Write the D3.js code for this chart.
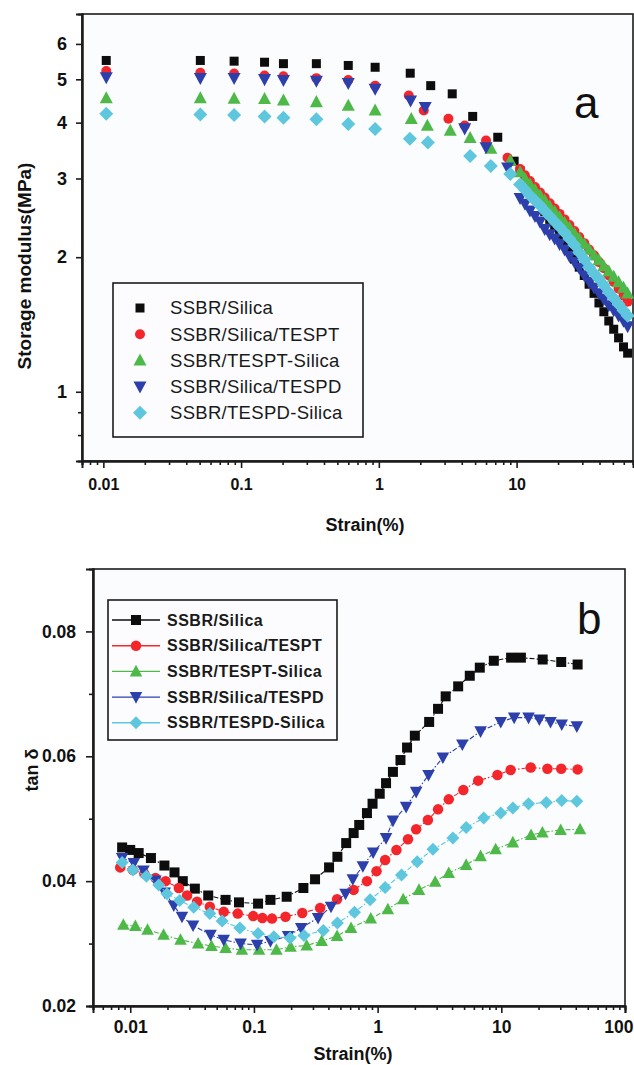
<!DOCTYPE html>
<html>
<head>
<meta charset="utf-8">
<script src="https://cdn.jsdelivr.net/npm/d3@7"></script>
<style>
  html, body { margin: 0; padding: 0; background: #ffffff; }
  svg { display: block; }
</style>
</head>
<body>
<svg id="fig" width="634" height="1065"></svg>
<script>
// ---------- series ----------
const seriesNames = ["SSBR/Silica", "SSBR/Silica/TESPT", "SSBR/TESPT-Silica", "SSBR/Silica/TESPD", "SSBR/TESPD-Silica"];

// ---------- (a) storage modulus vs strain ----------
// high-strain part of the sweep shared by all compounds (%)
const sweepStrain = [10.6, 11.5, 12.5, 13.6, 14.8, 16.0, 17.4, 18.9, 20.5, 22.3, 24.2, 26.3, 28.5, 31.0, 33.6, 36.5, 39.6, 43.0, 46.7, 50.7, 55.0, 59.7, 64.0];

const aStrainSilica = [0.0105, 0.0506, 0.089, 0.148, 0.203, 0.352, 0.60, 0.94, 1.69, 2.38, 3.41, 4.8, 7.3, 9.6, ...sweepStrain];
const aModSilica = [5.51, 5.51, 5.49, 5.46, 5.42, 5.42, 5.37, 5.32, 5.16, 4.84, 4.64, 4.13, 3.71, 3.28,
  3.12, 2.98, 2.86, 2.75, 2.64, 2.53, 2.43, 2.34, 2.25, 2.16, 2.07, 1.98, 1.90, 1.82, 1.74, 1.66, 1.58, 1.51, 1.44, 1.38, 1.32, 1.26, 1.22];

const aStrainSilicaTESPT = [0.0105, 0.0506, 0.089, 0.148, 0.203, 0.352, 0.60, 0.94, 1.65, 2.12, 3.2, 4.2, 6.0, 8.6, ...sweepStrain];
const aModSilicaTESPT = [5.22, 5.17, 5.15, 5.10, 5.08, 5.03, 4.98, 4.84, 4.60, 4.26, 4.08, 3.94, 3.65, 3.34,
  3.15, 3.05, 2.96, 2.87, 2.79, 2.72, 2.64, 2.57, 2.50, 2.43, 2.36, 2.29, 2.22, 2.15, 2.08, 2.02, 1.95, 1.89, 1.82, 1.76, 1.70, 1.64, 1.59];

const aStrainTESPTSilica = [0.0105, 0.0506, 0.089, 0.148, 0.203, 0.352, 0.60, 0.94, 1.72, 2.25, 3.3, 4.6, 6.5, 9.0, ...sweepStrain];
const aModTESPTSilica = [4.54, 4.54, 4.53, 4.52, 4.49, 4.45, 4.37, 4.26, 4.08, 3.94, 3.84, 3.70, 3.50, 3.29,
  3.10, 3.00, 2.91, 2.83, 2.75, 2.68, 2.60, 2.53, 2.46, 2.39, 2.33, 2.26, 2.20, 2.14, 2.08, 2.02, 1.97, 1.91, 1.86, 1.81, 1.76, 1.71, 1.66];

const aStrainSilicaTESPD = [0.0105, 0.0506, 0.089, 0.148, 0.203, 0.352, 0.60, 0.94, 1.70, 2.17, 4.2, 6.0, 8.6, ...sweepStrain];
const aModSilicaTESPD = [5.05, 5.03, 5.03, 5.00, 4.98, 4.96, 4.90, 4.76, 4.48, 4.33, 3.88, 3.52, 3.17,
  2.71, 2.63, 2.54, 2.47, 2.40, 2.31, 2.25, 2.20, 2.14, 2.08, 2.01, 1.95, 1.89, 1.82, 1.76, 1.71, 1.66, 1.61, 1.56, 1.52, 1.48, 1.44, 1.40];

const aStrainTESPDSilica = [0.0105, 0.0506, 0.089, 0.148, 0.203, 0.352, 0.60, 0.94, 1.68, 2.27, 4.6, 6.5, 9.0, ...sweepStrain];
const aModTESPDSilica = [4.19, 4.17, 4.16, 4.13, 4.10, 4.07, 3.97, 3.87, 3.68, 3.61, 3.37, 3.20, 3.07,
  2.91, 2.83, 2.75, 2.68, 2.61, 2.54, 2.47, 2.40, 2.34, 2.27, 2.20, 2.13, 2.05, 1.98, 1.90, 1.84, 1.79, 1.73, 1.67, 1.62, 1.57, 1.52, 1.48];

// ---------- (b) tan delta vs strain ----------
const bStrainSilica = [0.0086, 0.0100, 0.0117, 0.0147, 0.0189, 0.0228, 0.0266, 0.0333, 0.0427, 0.059, 0.0757, 0.108, 0.136, 0.184, 0.251, 0.312, 0.405, 0.473, 0.557, 0.64, 0.71, 0.82, 0.91, 1.04, 1.17, 1.33, 1.53, 1.73, 2.0, 2.61, 3.08, 3.55, 4.48, 5.56, 6.7, 8.7, 12.0, 14.4, 21.6, 30.5, 41.4];
const bTanSilica = [0.0454, 0.0450, 0.0445, 0.0437, 0.0425, 0.0414, 0.0400, 0.0388, 0.0377, 0.0370, 0.0366, 0.0364, 0.0370, 0.0375, 0.0389, 0.0403, 0.0422, 0.0439, 0.0461, 0.0477, 0.0490, 0.0509, 0.0524, 0.0540, 0.0557, 0.0575, 0.0594, 0.0614, 0.0633, 0.0655, 0.0676, 0.0696, 0.0712, 0.0729, 0.0742, 0.0753, 0.0758, 0.0758, 0.0755, 0.0751, 0.0747];

const bStrainSilicaTESPT = [0.0083, 0.0105, 0.0130, 0.0160, 0.0193, 0.0247, 0.0288, 0.0347, 0.044, 0.057, 0.074, 0.0987, 0.117, 0.14, 0.18, 0.246, 0.343, 0.47, 0.64, 0.82, 0.98, 1.15, 1.42, 1.76, 2.05, 2.55, 3.08, 3.76, 4.93, 6.5, 9.3, 11.9, 17.3, 23.6, 30.5, 41.4];
const bTanSilicaTESPT = [0.0422, 0.0418, 0.0412, 0.0405, 0.0400, 0.0389, 0.0377, 0.0367, 0.0359, 0.0351, 0.0348, 0.0344, 0.0341, 0.0340, 0.0343, 0.0349, 0.0357, 0.0371, 0.0386, 0.0400, 0.0416, 0.0434, 0.0450, 0.0467, 0.0483, 0.0498, 0.0515, 0.0531, 0.0546, 0.0561, 0.0570, 0.0578, 0.0582, 0.0580, 0.0580, 0.0579];

const bStrainTESPTSilica = [0.0088, 0.0110, 0.0138, 0.0186, 0.0255, 0.0354, 0.0454, 0.059, 0.080, 0.110, 0.152, 0.198, 0.267, 0.353, 0.47, 0.61, 0.88, 1.21, 1.61, 2.16, 2.92, 3.76, 5.2, 6.8, 9.0, 12.4, 17.4, 21.5, 30.2, 43.3];
const bTanTESPTSilica = [0.0330, 0.0328, 0.0322, 0.0314, 0.0306, 0.0300, 0.0296, 0.0293, 0.0290, 0.0290, 0.0290, 0.0295, 0.0297, 0.0304, 0.0312, 0.0325, 0.0340, 0.0355, 0.0371, 0.0386, 0.0399, 0.0413, 0.0426, 0.0440, 0.0451, 0.0462, 0.0474, 0.0478, 0.0482, 0.0483];

const bStrainSilicaTESPD = [0.0086, 0.0107, 0.0128, 0.0160, 0.0190, 0.0225, 0.0262, 0.0322, 0.0446, 0.057, 0.078, 0.106, 0.136, 0.189, 0.241, 0.33, 0.42, 0.55, 0.63, 0.76, 0.92, 1.17, 1.33, 1.70, 2.05, 2.58, 3.37, 4.84, 6.8, 9.9, 12.7, 16.6, 20.3, 25.0, 30.8, 40.8];
const bTanSilicaTESPD = [0.0437, 0.0429, 0.0417, 0.0401, 0.0382, 0.0361, 0.0343, 0.0329, 0.0314, 0.0306, 0.0300, 0.0298, 0.0304, 0.0312, 0.0325, 0.0341, 0.0359, 0.0380, 0.0403, 0.0424, 0.0446, 0.0469, 0.0497, 0.0519, 0.0543, 0.0570, 0.0598, 0.0619, 0.0640, 0.0655, 0.0662, 0.0662, 0.0659, 0.0655, 0.0651, 0.0648];

const bStrainTESPDSilica = [0.0086, 0.0105, 0.0135, 0.0170, 0.0198, 0.0251, 0.0326, 0.044, 0.0553, 0.077, 0.108, 0.145, 0.196, 0.254, 0.364, 0.473, 0.65, 0.87, 1.15, 1.56, 2.09, 2.8, 4.06, 5.2, 7.2, 9.9, 12.4, 16.6, 23.1, 30.8, 40.8];
const bTanTESPDSilica = [0.0430, 0.0418, 0.0408, 0.0394, 0.0380, 0.0369, 0.0358, 0.0348, 0.0336, 0.0325, 0.0316, 0.0311, 0.0309, 0.0313, 0.0321, 0.0333, 0.0350, 0.0370, 0.0390, 0.0410, 0.0431, 0.0451, 0.0469, 0.0486, 0.0501, 0.0509, 0.0517, 0.0524, 0.0526, 0.0529, 0.0528];

// ---------- tick labels ----------
const aXTicks = [0.01, 0.1, 1, 10];
const aXTickLabels = ["0.01", "0.1", "1", "10"];
const aYTicks = [1, 2, 3, 4, 5, 6];
const aYTickLabels = ["1", "2", "3", "4", "5", "6"];
const bXTicks = [0.01, 0.1, 1, 10, 100];
const bXTickLabels = ["0.01", "0.1", "1", "10", "100"];
const bYTicks = [0.02, 0.04, 0.06, 0.08];
const bYTickLabels = ["0.02", "0.04", "0.06", "0.08"];

// ---------- styling ----------
const colors = ["#0d0d0d", "#f3262b", "#4eb948", "#2c3fab", "#5ec7de"];
const shapes = ["square", "circle", "triangleUp", "triangleDown", "diamond"];
const FONT = "'Liberation Sans', Arial, Helvetica, sans-serif";

const aSeries = [
  {strain: aStrainSilica, value: aModSilica},
  {strain: aStrainSilicaTESPT, value: aModSilicaTESPT},
  {strain: aStrainTESPTSilica, value: aModTESPTSilica},
  {strain: aStrainSilicaTESPD, value: aModSilicaTESPD},
  {strain: aStrainTESPDSilica, value: aModTESPDSilica}
];
const bSeries = [
  {strain: bStrainSilica, value: bTanSilica},
  {strain: bStrainSilicaTESPT, value: bTanSilicaTESPT},
  {strain: bStrainTESPTSilica, value: bTanTESPTSilica},
  {strain: bStrainSilicaTESPD, value: bTanSilicaTESPD},
  {strain: bStrainTESPDSilica, value: bTanTESPDSilica}
];

// marker outline for a given shape and nominal width
function markerPath(shape, s) {
  const p = d3.path();
  const h = s / 2;
  if (shape === "square") {
    p.rect(-h, -h, s, s);
  } else if (shape === "circle") {
    p.arc(0, 0, h, 0, 2 * Math.PI);
  } else if (shape === "triangleUp") {
    p.moveTo(0, -h * 1.05); p.lineTo(h, h * 0.8); p.lineTo(-h, h * 0.8); p.closePath();
  } else if (shape === "triangleDown") {
    p.moveTo(0, h * 1.05); p.lineTo(h, -h * 0.8); p.lineTo(-h, -h * 0.8); p.closePath();
  } else {
    p.moveTo(0, -h); p.lineTo(h, 0); p.lineTo(0, h); p.lineTo(-h, 0); p.closePath();
  }
  return p.toString();
}
const aSizes = [9, 10, 13, 13, 14];
const bSizes = [10, 10.5, 12.5, 12.5, 13];

const svg = d3.select("#fig");

function decadeMinors(lo, hi) {
  const out = [];
  for (let e = Math.floor(Math.log10(lo)); e <= Math.ceil(Math.log10(hi)); e++) {
    for (let m = 2; m <= 9; m++) {
      const v = m * Math.pow(10, e);
      if (v >= lo * 0.999 && v <= hi * 1.001) out.push(v);
    }
  }
  return out;
}

function styleAxis(g, fontSize) {
  g.select(".domain").attr("stroke", "#1b1b1b").attr("stroke-width", 2);
  g.selectAll(".tick line").attr("stroke", "#1b1b1b").attr("stroke-width", 1.6);
  g.selectAll(".tick text")
    .attr("font-family", FONT).attr("font-weight", "bold")
    .attr("font-size", fontSize).attr("fill", "#111");
}

// ================= panel (a) =================
const aLeft = 82, aRight = 633, aTop = 14, aBottom = 461;
const ax = d3.scaleLog().domain([0.007, 70]).range([aLeft, aRight]);
const ay = d3.scaleLog().domain([0.7, 7]).range([aBottom, aTop]);

const pa = svg.append("g");
pa.append("rect").attr("x", aLeft).attr("y", aTop)
  .attr("width", aRight - aLeft).attr("height", aBottom - aTop)
  .attr("fill", "#fbfcfe").attr("stroke", "#1b1b1b").attr("stroke-width", 1.6);

// minor ticks
pa.append("g").attr("transform", `translate(0,${aBottom})`)
  .call(d3.axisBottom(ax).tickValues(decadeMinors(0.007, 70)).tickSize(4).tickFormat(""))
  .call(g => styleAxis(g, 15));
pa.append("g").attr("transform", `translate(${aLeft},0)`)
  .call(d3.axisLeft(ay).tickValues([0.8, 0.9]).tickSize(4).tickFormat(""))
  .call(g => styleAxis(g, 15));
// major ticks
pa.append("g").attr("transform", `translate(0,${aBottom})`)
  .call(d3.axisBottom(ax).tickValues(aXTicks).tickSize(7).tickPadding(11)
    .tickFormat((d, i) => aXTickLabels[i]))
  .call(g => styleAxis(g, 16));
pa.append("g").attr("transform", `translate(${aLeft},0)`)
  .call(d3.axisLeft(ay).tickValues(aYTicks).tickSize(6).tickPadding(9)
    .tickFormat((d, i) => aYTickLabels[i]))
  .call(g => styleAxis(g, 18));

// points
aSeries.forEach((s, k) => {
  pa.append("g").selectAll("path")
    .data(s.strain.map((x, i) => [x, s.value[i]]))
    .join("path")
    .attr("d", markerPath(shapes[k], aSizes[k]))
    .attr("transform", d => `translate(${ax(d[0])},${ay(d[1])})`)
    .attr("fill", colors[k]);
});

// legend (a)
const la = pa.append("g");
la.append("rect").attr("x", 113).attr("y", 283).attr("width", 250).attr("height", 154)
  .attr("fill", "#fcfcfe").attr("stroke", "#1b1b1b").attr("stroke-width", 1.6);
seriesNames.forEach((name, k) => {
  const yy = 308 + k * 26.2;
  la.append("path").attr("d", markerPath(shapes[k], aSizes[k]))
    .attr("transform", `translate(140,${yy})`).attr("fill", colors[k]);
  la.append("text").attr("x", 170).attr("y", yy).attr("dy", "0.35em")
    .attr("font-family", FONT).attr("font-size", 18.5).attr("letter-spacing", 0.3)
    .attr("fill", "#1a1a1a")
    .text(name);
});

// titles (a)
pa.append("text").attr("transform", "translate(31,266) rotate(-90)")
  .attr("text-anchor", "middle").attr("font-family", FONT).attr("font-weight", "bold")
  .attr("font-size", 19).attr("fill", "#111").text("Storage modulus(MPa)");
pa.append("text").attr("x", 365).attr("y", 531)
  .attr("text-anchor", "middle").attr("font-family", FONT).attr("font-weight", "bold")
  .attr("font-size", 18).attr("fill", "#111").text("Strain(%)");
pa.append("text").attr("x", 574).attr("y", 118)
  .attr("font-family", FONT).attr("font-size", 44).attr("fill", "#111").text("a");

// ================= panel (b) =================
const bLeft = 93, bRight = 625, bTop = 569, bBottom = 1006;
const bx = d3.scaleLog().domain([0.005, 100]).range([bLeft, bRight]);
const by = d3.scaleLinear().domain([0.02, 0.09]).range([bBottom, bTop]);

const pb = svg.append("g");
pb.append("rect").attr("x", bLeft).attr("y", bTop)
  .attr("width", bRight - bLeft).attr("height", bBottom - bTop)
  .attr("fill", "#fbfcfe").attr("stroke", "#1b1b1b").attr("stroke-width", 1.6);

pb.append("g").attr("transform", `translate(0,${bBottom})`)
  .call(d3.axisBottom(bx).tickValues(decadeMinors(0.005, 100)).tickSize(4).tickFormat(""))
  .call(g => styleAxis(g, 15));
pb.append("g").attr("transform", `translate(${bLeft},0)`)
  .call(d3.axisLeft(by).tickValues([0.03, 0.05, 0.07]).tickSize(4).tickFormat(""))
  .call(g => styleAxis(g, 15));
pb.append("g").attr("transform", `translate(0,${bBottom})`)
  .call(d3.axisBottom(bx).tickValues(bXTicks).tickSize(7).tickPadding(8)
    .tickFormat((d, i) => bXTickLabels[i]))
  .call(g => styleAxis(g, 17.5))
  // keep the last label inside the page edge
  .call(g => g.selectAll(".tick text").filter(d => d === 100)
    .attr("text-anchor", "end").attr("x", 633 - bx(100)));
pb.append("g").attr("transform", `translate(${bLeft},0)`)
  .call(d3.axisLeft(by).tickValues(bYTicks).tickSize(7).tickPadding(10)
    .tickFormat((d, i) => bYTickLabels[i]))
  .call(g => styleAxis(g, 17.5));

const bLine = d3.line().x(d => bx(d[0])).y(d => by(d[1]));
bSeries.forEach((s, k) => {
  const pts = s.strain.map((x, i) => [x, s.value[i]]);
  const g = pb.append("g");
  g.append("path").datum(pts).attr("d", bLine)
    .attr("fill", "none").attr("stroke", colors[k]).attr("stroke-width", 1.1)
    .attr("stroke-dasharray", "5,2,1.5,2");
  g.selectAll("path.m").data(pts).join("path").attr("class", "m")
    .attr("d", markerPath(shapes[k], bSizes[k]))
    .attr("transform", d => `translate(${bx(d[0])},${by(d[1])})`)
    .attr("fill", colors[k]);
});

// legend (b)
const lb = pb.append("g");
lb.append("rect").attr("x", 108).attr("y", 600).attr("width", 229).attr("height", 140)
  .attr("fill", "#fcfcfe").attr("stroke", "#1b1b1b").attr("stroke-width", 1.6);
seriesNames.forEach((name, k) => {
  const yy = 620 + k * 25.7;
  lb.append("line").attr("x1", 112).attr("x2", 160).attr("y1", yy).attr("y2", yy)
    .attr("stroke", colors[k]).attr("stroke-width", 1.4);
  lb.append("path").attr("d", markerPath(shapes[k], bSizes[k]))
    .attr("transform", `translate(136,${yy})`).attr("fill", colors[k]);
  lb.append("text").attr("x", 167).attr("y", yy).attr("dy", "0.35em")
    .attr("font-family", FONT).attr("font-weight", "bold").attr("font-size", 16)
    .attr("letter-spacing", 0.5).attr("fill", "#1a1a1a")
    .text(name);
});

pb.append("text").attr("transform", "translate(38,770) rotate(-90)")
  .attr("text-anchor", "middle").attr("font-family", FONT).attr("font-weight", "bold")
  .attr("font-size", 18).attr("fill", "#111").text("tan δ");
pb.append("text").attr("x", 353).attr("y", 1060)
  .attr("text-anchor", "middle").attr("font-family", FONT).attr("font-weight", "bold")
  .attr("font-size", 18).attr("fill", "#111").text("Strain(%)");
pb.append("text").attr("x", 577).attr("y", 634)
  .attr("font-family", FONT).attr("font-size", 44).attr("fill", "#111").text("b");
</script>
</body>
</html>
